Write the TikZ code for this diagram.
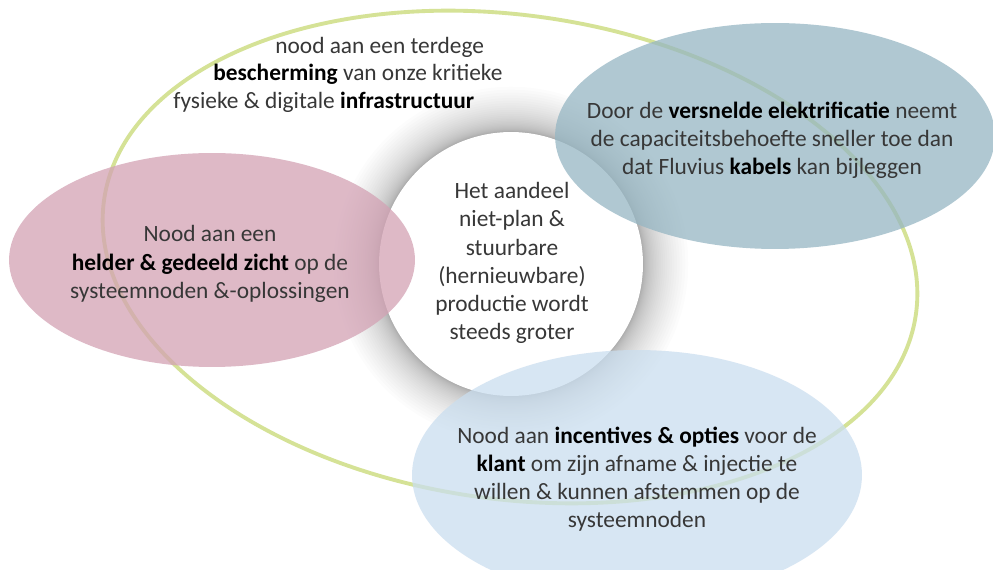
\documentclass[tikz,border=0pt]{standalone}
\usepackage{fontspec}
\setmainfont{Carlito}
\usepackage{tikz}
\usetikzlibrary{shapes.geometric,positioning}
\definecolor{nwpink}{RGB}{211,162,180}
\definecolor{nwteal}{RGB}{150,182,195}
\definecolor{nwblue}{RGB}{202,222,239}
\definecolor{nwring}{RGB}{213,226,150}
\definecolor{nwink}{RGB}{55,55,55}
\newcommand{\kw}[1]{\textbf{\color{black}#1}}
\tikzset{
  bubble/.style={ellipse, draw=none, fill opacity=0.75, inner sep=0pt},
  ring/.style={ellipse, draw=nwring, line width=2.2pt, inner sep=0pt},
  core/.style={circle, fill=white, inner sep=0pt, minimum size=5.28cm},
  txt/.style={align=center, text=nwink, inner sep=0pt,
    font=\fontsize{13.3}{16}\selectfont},
  every picture/.append style={line join=round}
}

\begin{document}
\begin{tikzpicture}[x=0.02cm, y=-0.02cm]
  \useasboundingbox (0,0) rectangle (993,570);
  \fill[white] (0,0) rectangle (993,570);
  \clip (0,0) rectangle (993,570);
  \coordinate (mid) at (511,264);
  % soft shadow round the middle circle
  \foreach \k in {1,...,30}
    \fill[black, opacity=0.011] (mid) circle (2.64cm+\k*\k*0.001cm);
  \node[core] (hub) at (mid) {};
  \node[ring, minimum width=16.4cm, minimum height=9.68cm, rotate=-8] (frame) at (510,257) {};
  \node[bubble, fill=nwpink, minimum width=8.12cm, minimum height=4.28cm] (view) at (212,260) {};
  \node[bubble, fill=nwteal, minimum width=8.8cm, minimum height=4.52cm] (elec) at (775,136) {};
  \node[bubble, fill=nwblue, minimum width=9cm, minimum height=5cm] (client) at (637,475) {};

  % texts
  \node[txt] (hubtext) at (512,263) {Het aandeel\\niet-plan \&\\stuurbare\\(hernieuwbare)\\productie wordt\\steeds groter};
  \node[txt] (viewtext) at (210,264) {Nood aan een\\\kw{helder \& gedeeld zicht} op de\\systeemnoden \&-oplossingen};
  \node[txt] (electext) at (772,140) {Door de \kw{versnelde elektrificatie} neemt\\de capaciteitsbehoefte sneller toe dan\\dat Fluvius \kw{kabels} kan bijleggen};
  \node[txt] (clienttext) at (637,479) {Nood aan \kw{incentives \& opties} voor de\\\kw{klant} om zijn afname \& injectie te\\willen \& kunnen afstemmen op de\\systeemnoden};
  \node[txt, anchor=base west] (guarda) at (275,54) {nood aan een terdege};
  \node[txt, anchor=base west] (guardb) at (213,81) {\kw{bescherming} van onze kritieke};
  \node[txt, anchor=base west] (guardc) at (173,109) {fysieke \& digitale \kw{infrastructuur}};
\end{tikzpicture}
\end{document}
